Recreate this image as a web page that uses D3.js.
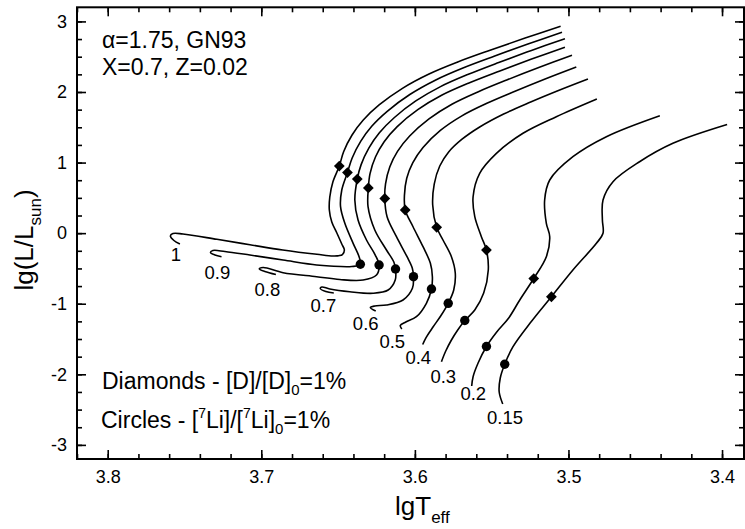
<!DOCTYPE html>
<html><head><meta charset="utf-8">
<script src="https://cdn.jsdelivr.net/npm/d3@7"></script>
<style>body{margin:0;background:#fff} svg{display:block} text{font-family:"Liberation Sans",Arial,sans-serif;fill:#000}</style>
</head><body><svg id="c" width="745" height="529"></svg>
<script>
// ---- data: [lgTeff, lg(L/Lsun)] ----
const masses = ["1","0.9","0.8","0.7","0.6","0.5","0.4","0.3","0.2","0.15"];
const track100 = [[3.5051,2.931],[3.5282,2.765],[3.5506,2.595],[3.5721,2.425],[3.5908,2.255],[3.6081,2.052],[3.6233,1.816],[3.6336,1.603],[3.6409,1.391],[3.6464,1.154],[3.6492,0.951],[3.6534,0.725],[3.6554,0.512],[3.6557,0.328],[3.6541,0.158],[3.6508,0.002],[3.6476,-0.154],[3.6459,-0.239],[3.6472,-0.303],[3.6528,-0.324],[3.6638,-0.300],[3.6860,-0.239],[3.7074,-0.164],[3.7289,-0.087],[3.7510,-0.012],[3.7575,-0.005],[3.7592,-0.040],[3.7569,-0.104],[3.7530,-0.154]];
const track090 = [[3.5042,2.846],[3.5264,2.680],[3.5480,2.509],[3.5687,2.339],[3.5867,2.167],[3.6033,1.964],[3.6180,1.726],[3.6281,1.514],[3.6353,1.300],[3.6409,1.062],[3.6439,0.859],[3.6476,0.611],[3.6484,0.375],[3.6456,0.139],[3.6402,-0.144],[3.6365,-0.324],[3.6355,-0.441],[3.6411,-0.473],[3.6554,-0.466],[3.6640,-0.451],[3.6858,-0.381],[3.7074,-0.310],[3.7237,-0.260],[3.7315,-0.246],[3.7331,-0.274],[3.7302,-0.310],[3.7259,-0.334]];
const track080 = [[3.5023,2.755],[3.5241,2.589],[3.5454,2.418],[3.5656,2.247],[3.5833,2.076],[3.5994,1.873],[3.6135,1.635],[3.6231,1.422],[3.6299,1.208],[3.6350,0.971],[3.6375,0.767],[3.6391,0.470],[3.6370,0.186],[3.6315,-0.097],[3.6258,-0.310],[3.6233,-0.451],[3.6250,-0.593],[3.6337,-0.664],[3.6489,-0.657],[3.6640,-0.617],[3.6858,-0.560],[3.6988,-0.487],[3.7013,-0.508],[3.6977,-0.543],[3.6905,-0.586]];
const track070 = [[3.5023,2.633],[3.5240,2.466],[3.5451,2.295],[3.5652,2.124],[3.5826,1.953],[3.5981,1.749],[3.6115,1.510],[3.6200,1.296],[3.6256,1.082],[3.6292,0.844],[3.6303,0.640],[3.6305,0.375],[3.6261,0.045],[3.6185,-0.239],[3.6137,-0.409],[3.6126,-0.508],[3.6128,-0.664],[3.6174,-0.806],[3.6272,-0.852],[3.6424,-0.830],[3.6554,-0.791],[3.6606,-0.763],[3.6616,-0.784],[3.6580,-0.827],[3.6528,-0.848]];
const track060 = [[3.4977,2.520],[3.5189,2.350],[3.5395,2.176],[3.5590,2.001],[3.5759,1.827],[3.5908,1.619],[3.6034,1.377],[3.6113,1.159],[3.6163,0.941],[3.6191,0.699],[3.6196,0.491],[3.6181,0.233],[3.6120,-0.050],[3.6051,-0.334],[3.6017,-0.494],[3.6009,-0.617],[3.6016,-0.781],[3.6077,-0.947],[3.6185,-1.018],[3.6261,-1.032],[3.6290,-1.054],[3.6255,-1.103]];
const track050 = [[3.4949,2.354],[3.5152,2.184],[3.5348,2.010],[3.5535,1.836],[3.5694,1.662],[3.5834,1.455],[3.5947,1.213],[3.6014,0.995],[3.6053,0.778],[3.6068,0.535],[3.6063,0.328],[3.6012,0.091],[3.5947,-0.192],[3.5899,-0.427],[3.5886,-0.617],[3.5892,-0.791],[3.5925,-0.994],[3.5990,-1.184],[3.6059,-1.259],[3.6095,-1.309],[3.6085,-1.358]];
const track040 = [[3.4873,2.184],[3.5057,2.028],[3.5246,1.858],[3.5422,1.688],[3.5578,1.504],[3.5695,1.327],[3.5780,1.150],[3.5838,0.951],[3.5874,0.696],[3.5884,0.399],[3.5858,0.083],[3.5817,-0.097],[3.5762,-0.334],[3.5737,-0.565],[3.5747,-0.806],[3.5783,-0.994],[3.5832,-1.174],[3.5882,-1.330],[3.5929,-1.486],[3.5949,-1.578]];
const track030 = [[3.4815,1.901],[3.5079,1.650],[3.5296,1.415],[3.5469,1.131],[3.5578,0.848],[3.5621,0.516],[3.5610,0.233],[3.5567,-0.050],[3.5534,-0.239],[3.5522,-0.522],[3.5552,-0.848],[3.5610,-1.089],[3.5675,-1.238],[3.5721,-1.372],[3.5762,-1.514],[3.5799,-1.670],[3.5827,-1.821]];
const track020 = [[3.4405,1.664],[3.4753,1.367],[3.4971,1.083],[3.5122,0.753],[3.5155,0.470],[3.5144,0.139],[3.5122,-0.050],[3.5144,-0.334],[3.5226,-0.643],[3.5317,-0.947],[3.5389,-1.202],[3.5467,-1.401],[3.5534,-1.606],[3.5589,-1.844],[3.5621,-2.034],[3.5630,-2.166]];
const track015 = [[3.3967,1.539],[3.4320,1.273],[3.4537,1.012],[3.4710,0.729],[3.4775,0.470],[3.4779,0.186],[3.4775,-0.002],[3.4818,-0.144],[3.4971,-0.522],[3.5111,-0.901],[3.5239,-1.245],[3.5361,-1.609],[3.5415,-1.858],[3.5444,-2.052],[3.5451,-2.251],[3.5428,-2.421]];
const tracks = [track100,track090,track080,track070,track060,track050,track040,track030,track020,track015];

// Deuterium 1% points (diamonds), one per mass
const diamonds = [[3.6492,0.951],[3.6439,0.859],[3.6375,0.767],[3.6303,0.640],[3.6196,0.491],[3.6063,0.328],[3.5858,0.083],[3.5534,-0.239],[3.5226,-0.643],[3.5111,-0.901]];
// Lithium 1% points (circles), masses 0.9 .. 0.15
const circles = [[3.6355,-0.441],[3.6233,-0.451],[3.6126,-0.508],[3.6009,-0.617],[3.5892,-0.791],[3.5783,-0.994],[3.5675,-1.238],[3.5534,-1.606],[3.5415,-1.858]];
// label anchors (data units) for mass labels
const labelAnchors = [[3.7556,-0.395],[3.7286,-0.654],[3.6960,-0.886],[3.6596,-1.122],[3.6320,-1.372],[3.6147,-1.632],[3.5978,-1.858],[3.5815,-2.119],[3.5620,-2.357],[3.5413,-2.704]];

const xTicks = [3.8,3.7,3.6,3.5,3.4];
const xTickLabels = ["3.8","3.7","3.6","3.5","3.4"];
const yTicks = [-3,-2,-1,0,1,2,3];
const yTickLabels = ["-3","-2","-1","0","1","2","3"];

// ---- drawing ----
const L = 77, R = 744, T = 7.3, B = 459;
const svg = d3.select("#c");
const x = d3.scaleLinear().domain([3.82,3.3857]).range([L,R]);
const y = d3.scaleLinear().domain([-3.2,3.2]).range([B,T]);

const xMinor = d3.range(3.40,3.821,0.02).map(v=>+v.toFixed(2));
const yMinor = d3.range(-3.0,3.01,0.25).map(v=>+v.toFixed(2));

function styleAxis(g){
  g.select(".domain").remove();
  g.selectAll(".tick line").attr("stroke","#000").attr("stroke-width",1.6);
  g.selectAll(".tick text").attr("font-size",18).attr("font-family",'"Liberation Sans",Arial,sans-serif').attr("fill","#000");
}
const xl = (d)=> xTickLabels[xTicks.indexOf(d)];
const yl = (d)=> yTickLabels[yTicks.indexOf(d)];

svg.append("g").attr("transform",`translate(0,${B})`).call(d3.axisBottom(x).tickValues(xMinor).tickSize(-5).tickFormat("")).call(styleAxis);
svg.append("g").attr("transform",`translate(0,${B})`).call(d3.axisBottom(x).tickValues(xTicks).tickSize(-9).tickPadding(11).tickFormat(xl)).call(styleAxis);
svg.append("g").attr("transform",`translate(0,${T})`).call(d3.axisTop(x).tickValues(xMinor).tickSize(-5).tickFormat("")).call(styleAxis);
svg.append("g").attr("transform",`translate(0,${T})`).call(d3.axisTop(x).tickValues(xTicks).tickSize(-9).tickFormat("")).call(styleAxis);
svg.append("g").attr("transform",`translate(${L},0)`).call(d3.axisLeft(y).tickValues(yMinor).tickSize(-5).tickFormat("")).call(styleAxis);
svg.append("g").attr("transform",`translate(${L},0)`).call(d3.axisLeft(y).tickValues(yTicks).tickSize(-9).tickPadding(10).tickFormat(yl)).call(styleAxis);
svg.append("g").attr("transform",`translate(${R},0)`).call(d3.axisRight(y).tickValues(yMinor).tickSize(-5).tickFormat("")).call(styleAxis);
svg.append("g").attr("transform",`translate(${R},0)`).call(d3.axisRight(y).tickValues(yTicks).tickSize(-9).tickFormat("")).call(styleAxis);

svg.append("rect").attr("x",L).attr("y",T).attr("width",R-L).attr("height",B-T)
  .attr("fill","none").attr("stroke","#000").attr("stroke-width",2);

const line = d3.line().x(d=>x(d[0])).y(d=>y(d[1])).curve(d3.curveCatmullRom.alpha(0.5));
svg.append("g").selectAll("path").data(tracks).join("path")
  .attr("d",line).attr("fill","none").attr("stroke","#000").attr("stroke-width",1.6);

svg.append("g").selectAll("path").data(diamonds).join("path")
  .attr("d",d3.symbol(d3.symbolSquare,58)())
  .attr("transform",d=>`translate(${x(d[0])},${y(d[1])}) rotate(45)`)
  .attr("fill","#000");

svg.append("g").selectAll("circle").data(circles).join("circle")
  .attr("cx",d=>x(d[0])).attr("cy",d=>y(d[1])).attr("r",4.7).attr("fill","#000");

svg.append("g").selectAll("text").data(masses).join("text")
  .attr("x",(d,i)=>x(labelAnchors[i][0])).attr("y",(d,i)=>y(labelAnchors[i][1]))
  .attr("text-anchor","middle").attr("font-size",18.5).text(d=>d);

// annotations
const ann = svg.append("g").attr("font-size",23);
ann.append("text").attr("x",102).attr("y",48).text("\u03B1=1.75, GN93");
ann.append("text").attr("x",102).attr("y",75).text("X=0.7, Z=0.02");
const t1 = ann.append("text").attr("x",102).attr("y",389);
t1.append("tspan").text("Diamonds - [D]/[D]");
t1.append("tspan").attr("font-size",15).attr("dy",6).text("0");
t1.append("tspan").attr("dy",-6).text("=1%");
const t2 = ann.append("text").attr("x",101).attr("y",428);
t2.append("tspan").text("Circles - [");
t2.append("tspan").attr("font-size",14).attr("dy",-10).text("7");
t2.append("tspan").attr("dy",10).text("Li]/[");
t2.append("tspan").attr("font-size",14).attr("dy",-10).text("7");
t2.append("tspan").attr("dy",10).text("Li]");
t2.append("tspan").attr("font-size",15).attr("dy",6).text("0");
t2.append("tspan").attr("dy",-6).text("=1%");

// axis titles
const xt = svg.append("text").attr("x",395).attr("y",515).attr("font-size",26);
xt.append("tspan").text("lgT");
xt.append("tspan").attr("font-size",17).attr("dy",8).text("eff");

const yt = svg.append("text").attr("transform","translate(33,240) rotate(-90)").attr("text-anchor","middle").attr("font-size",26);
yt.append("tspan").text("lg(L/L");
yt.append("tspan").attr("font-size",17).attr("dy",8).text("sun");
yt.append("tspan").attr("dy",-8).text(")");
</script></body></html>
